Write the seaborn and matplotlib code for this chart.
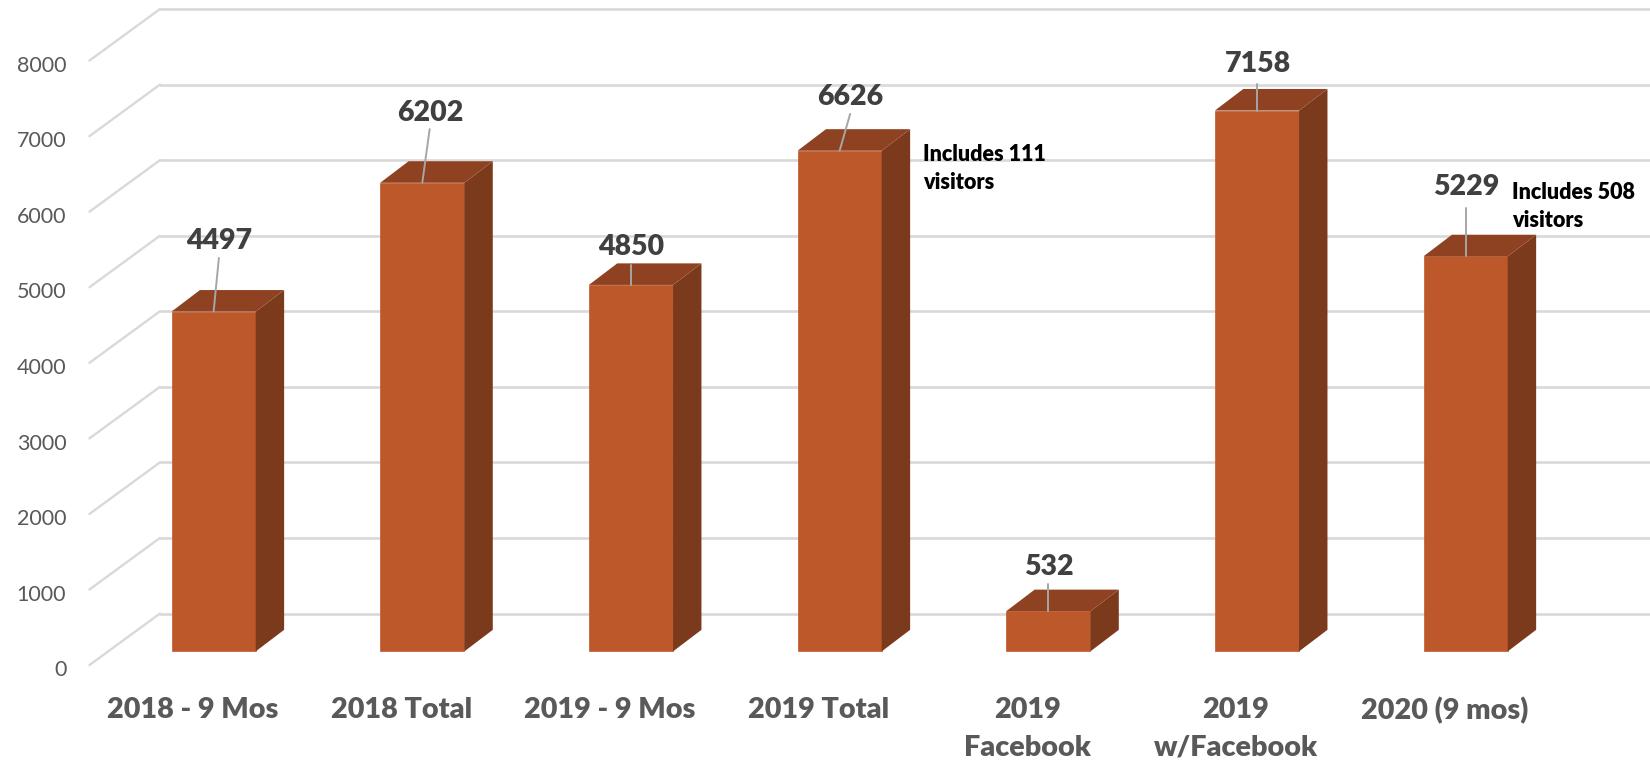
import matplotlib
matplotlib.use("Agg")
import matplotlib.pyplot as plt
import seaborn as sns
import pandas as pd
from matplotlib.patches import Polygon

categories = ["2018 - 9 Mos", "2018 Total", "2019 - 9 Mos", "2019 Total",
              "2019\nFacebook", "2019\nw/Facebook", "2020 (9 mos)"]
visitors = [4497, 6202, 4850, 6626, 532, 7158, 5229]
y_ticks = [0, 1000, 2000, 3000, 4000, 5000, 6000, 7000, 8000]
notes = ["Includes 111\nvisitors", "Includes 508\nvisitors"]

W, H = 1650, 764
PX_X = 198.3                          # px per category
PX_Y = 0.0718                         # px per value unit
X0, Y0 = 203.0, 619.0                 # px of first category, of value 0
AX_BOTTOM = 650.0

FRONT = "#BC582A"
SIDE = "#7C3A1C"
TOP = "#8E4221"
GRID = "#D9D9D9"
TXT = "#404040"

sns.set_theme(style="white")
plt.rcParams["font.family"] = ["Lato", "DejaVu Sans"]

fig = plt.figure(figsize=(W / 100, H / 100), dpi=100)
ax = fig.add_axes([0, 1 - AX_BOTTOM / 726, 1, AX_BOTTOM / 726])
df = pd.DataFrame({"cat": categories, "v": visitors})
sns.barplot(data=df, x="cat", y="v", color=FRONT, saturation=1, width=80 / PX_X,
            linewidth=0.5, edgecolor=FRONT, ax=ax, zorder=3)

ax.set_xlim(-X0 / PX_X, (1568 - X0) / PX_X)
ax.set_ylim((Y0 - AX_BOTTOM) / PX_Y, Y0 / PX_Y)
sns.despine(ax=ax, left=True, bottom=True)
ax.set_xlabel("")
ax.set_ylabel("")
ax.set_yticks([])
ax.tick_params(axis="x", length=0, labelbottom=False)

# category labels sit on the front plane, left of the bars
shift = 20 / PX_X
sx = ax.secondary_xaxis("bottom", functions=(lambda x: x + shift, lambda s: s - shift))
sx.set_xticks(range(len(categories)), labels=categories)
sx.tick_params(axis="x", length=0, pad=9.5)
sx.spines["bottom"].set_visible(False)
for lb in sx.get_xticklabels():
    lb.set_fontsize(20.7)
    lb.set_fontweight("heavy")
    lb.set_color("#595959")
    lb.set_linespacing(1.55)
    lb.set_verticalalignment("top")

# wall and floor grid
back = 36 / PX_Y
front = -13 / PX_Y
x_wall = (152 - X0) / PX_X
x_front = (85 - X0) / PX_X
for v in y_ticks:
    ax.plot([x_wall, (1568 - X0) / PX_X], [v + back, v + back], color=GRID, lw=1.9, zorder=1)
    ax.plot([x_front, x_wall], [v + front, v + back], color=GRID, lw=1.7, zorder=1)

# 3-D faces of the bars
half = 40 / PX_X
dx = 27 / PX_X
dy = 20.5 / PX_Y
for i, v in enumerate(visitors):
    ax.add_patch(Polygon([(i + half, 0), (i + half + dx, dy), (i + half + dx, v + dy), (i + half, v)],
                         closed=True, fc=SIDE, ec="none", zorder=3))
    ax.add_patch(Polygon([(i - half, v), (i + half, v), (i + half + dx, v + dy), (i - half + dx, v + dy)],
                         closed=True, fc=TOP, ec="none", zorder=3))

# value labels with leaders (offsets in px: label dx, leader-end dy, label dy)
label_pos = [(5, 51, 67), (7, 51, 66), (0, 19, 36), (10, 35, 51), (0, 26, 42), (0, 25, 44), (0, 46, 66)]
for i, (v, (ox, ly, ty)) in enumerate(zip(visitors, label_pos)):
    ax.plot([i, i + ox / PX_X], [v, v + ly / PX_Y], color="#A6A6A6", lw=1.4, zorder=4)
    ax.text(i + (ox + 0.5) / PX_X, v + ty / PX_Y, str(v), ha="center", va="center",
            fontsize=20.5, fontweight="heavy", color=TXT, zorder=5)

# notes
ax.text((877 - X0) / PX_X, (Y0 - 160) / PX_Y, notes[0], ha="left", va="center",
        fontsize=15.5, fontweight="heavy", color="black", linespacing=1.4, zorder=5)
ax.text((1437 - X0) / PX_X, (Y0 - 196) / PX_Y, notes[1], ha="left", va="center",
        fontsize=15.5, fontweight="heavy", color="black", linespacing=1.4, zorder=5)

# value axis sits on the front plane
sec = ax.secondary_yaxis(63 / 1568, functions=(lambda y: y + 223.0, lambda s: s - 223.0))
sec.set_yticks(y_ticks)
sec.tick_params(axis="y", length=0, pad=0, labelsize=15.5, labelcolor="#595959")
sec.spines["left"].set_visible(False)

fig.savefig("out.png", dpi=100, facecolor="white")
